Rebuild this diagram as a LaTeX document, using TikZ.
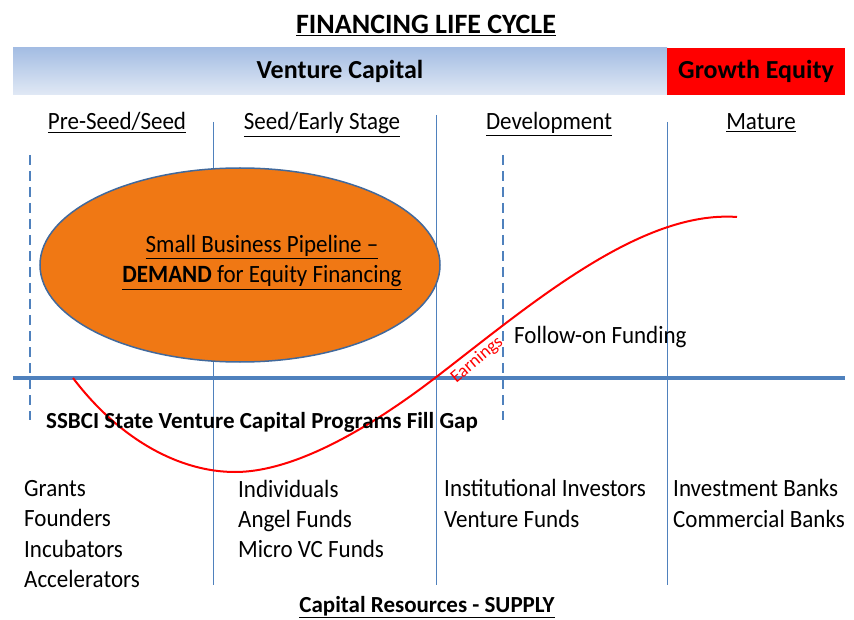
\documentclass[tikz,border=0pt]{standalone}
\usepackage{fontspec}
\usepackage{graphicx}
\setmainfont{Carlito}
% regular labels are set slightly taller than their natural proportions
\newcommand{\tallText}[1]{\scalebox{1}[1.08]{#1}}
\begin{document}
\begin{tikzpicture}[x=1pt,y=-1pt,
  txt/.style={inner sep=0pt,font=\fontsize{23}{23}\selectfont},
  hdr/.style={inner sep=0pt,font=\fontsize{26}{26}\selectfont\bfseries},
  boldtxt/.style={inner sep=0pt,font=\fontsize{23}{23}\selectfont\bfseries},
  divider/.style={draw=axisblue,line width=1pt},
  stagedash/.style={draw=axisblue,line width=1.5pt,dash pattern=on 10pt off 6pt},
]
\definecolor{axisblue}{HTML}{4F81BD}
\definecolor{barTop}{HTML}{A4BDE3}
\definecolor{barBot}{HTML}{E1E9F5}
\definecolor{pipeOrange}{HTML}{F07814}
\definecolor{pipeEdge}{HTML}{41699C}
\useasboundingbox (0,0) rectangle (854,620);
\fill[white] (0,0) rectangle (854,620);

% title
\node[inner sep=0pt,anchor=base,font=\fontsize{28}{28}\selectfont\bfseries] (title) at (426,34) {\underline{FINANCING LIFE CYCLE}};

% header bar
\shade[top color=barTop,bottom color=barBot] (13,48) rectangle (667,95);
\node[hdr,anchor=base] (vc) at (340,79) {Venture Capital};
\fill[red] (667,48) rectangle (845,95);
\node[hdr,anchor=base] (ge) at (756,79) {Growth Equity};

% stage headings
\node[txt,anchor=base] (s1) at (117,130) {\tallText{\underline{Pre-Seed/Seed}}};
\node[txt,anchor=base] (s2) at (322,130) {\tallText{\underline{Seed/Early Stage}}};
\node[txt,anchor=base] (s3) at (549,130) {\tallText{\underline{Development}}};
\node[txt,anchor=base] (s4) at (761,130) {\tallText{\underline{Mature}}};

% stage dividers
\draw[divider] (213,122) -- (213,585);
\draw[divider] (436,115) -- (436,585);
\draw[divider] (667,122) -- (667,585);
\draw[stagedash] (30,155) -- (30,420);
\draw[stagedash] (503,155) -- (503,420);

% pipeline ellipse
\fill[pipeOrange,draw=pipeEdge,line width=1.5pt] (240,265) ellipse [x radius=200, y radius=97];
\node[txt,anchor=base] (p1) at (262,253) {\tallText{\underline{Small Business Pipeline –}}};
\node[txt,anchor=base] (p2) at (262,283) {\tallText{\underline{\textbf{DEMAND} for Equity Financing}}};

% axis
\draw[axisblue,line width=4pt] (13,378) -- (845,378);

% earnings curve
\draw[red,line width=2pt] (73,378) .. controls (120,440) and (180,472) .. (235,472)
  .. controls (300,472) and (380,420) .. (435,378)
  .. controls (530,305) and (640,210) .. (737,217);
\node[inner sep=0pt,text=red,rotate=40,font=\fontsize{18}{18}\selectfont] (earn) at (477,360) {Earnings};

\node[txt,anchor=base west] (fo) at (514,343) {\tallText{Follow-on Funding}};
\node[boldtxt,anchor=base] (gap) at (262,428) {SSBCI State Venture Capital Programs Fill Gap};

% supply lists
\node[txt,anchor=base west] (a1) at (24,496) {\tallText{Grants}};
\node[txt,anchor=base west] (a2) at (24,526) {\tallText{Founders}};
\node[txt,anchor=base west] (a3) at (24,557) {\tallText{Incubators}};
\node[txt,anchor=base west] (a4) at (24,587) {\tallText{Accelerators}};
\node[txt,anchor=base west] (b1) at (238,497) {\tallText{Individuals}};
\node[txt,anchor=base west] (b2) at (238,527) {\tallText{Angel Funds}};
\node[txt,anchor=base west] (b3) at (238,557) {\tallText{Micro VC Funds}};
\node[txt,anchor=base west] (c1) at (444,496) {\tallText{Institutional Investors}};
\node[txt,anchor=base west] (c2) at (444,527) {\tallText{Venture Funds}};
\node[txt,anchor=base west] (d1) at (673,496) {\tallText{Investment Banks}};
\node[txt,anchor=base west] (d2) at (673,527) {\tallText{Commercial Banks}};

\node[boldtxt,anchor=base] (supply) at (427,612) {\underline{Capital Resources - SUPPLY}};
\end{tikzpicture}
\end{document}
